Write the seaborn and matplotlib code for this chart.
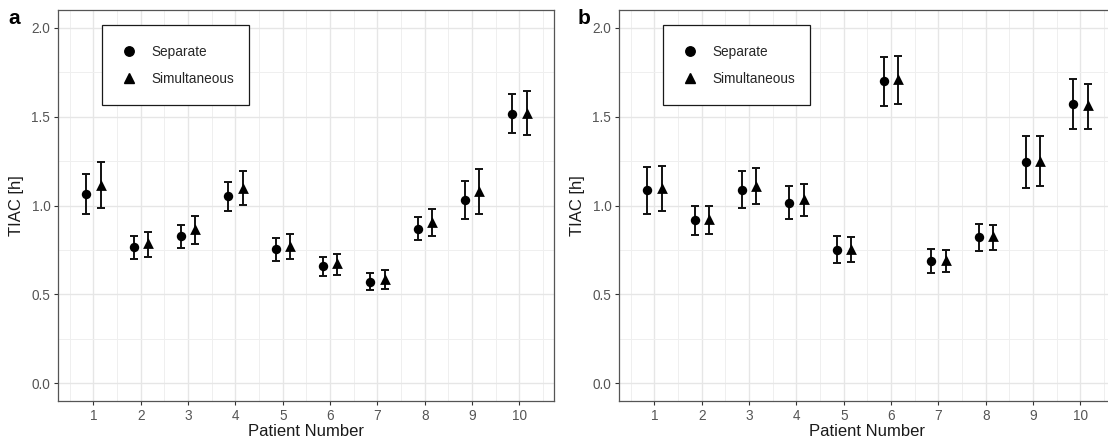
import numpy as np
import pandas as pd
import matplotlib
matplotlib.use("Agg")
import matplotlib.pyplot as plt
from matplotlib.ticker import MultipleLocator
import seaborn as sns

# ---------------- data ----------------
patients = [1, 2, 3, 4, 5, 6, 7, 8, 9, 10]
methods = ["Separate", "Simultaneous"]

a_sep = [1.065, 0.766, 0.826, 1.052, 0.753, 0.659, 0.571, 0.869, 1.031, 1.517]
a_sep_lo = [0.954, 0.700, 0.759, 0.971, 0.689, 0.605, 0.522, 0.804, 0.924, 1.407]
a_sep_hi = [1.177, 0.828, 0.890, 1.134, 0.817, 0.710, 0.618, 0.935, 1.138, 1.626]
a_sim = [1.115, 0.787, 0.866, 1.100, 0.772, 0.676, 0.588, 0.905, 1.083, 1.523]
a_sim_lo = [0.986, 0.710, 0.783, 1.001, 0.699, 0.608, 0.528, 0.826, 0.952, 1.395]
a_sim_hi = [1.245, 0.850, 0.939, 1.193, 0.838, 0.727, 0.637, 0.980, 1.204, 1.645]

b_sep = [1.085, 0.917, 1.089, 1.015, 0.751, 1.699, 0.689, 0.823, 1.243, 1.571]
b_sep_lo = [0.951, 0.832, 0.985, 0.925, 0.678, 1.558, 0.623, 0.746, 1.096, 1.433]
b_sep_hi = [1.219, 1.000, 1.192, 1.107, 0.827, 1.834, 0.757, 0.897, 1.390, 1.710]
b_sim = [1.100, 0.925, 1.109, 1.034, 0.757, 1.710, 0.691, 0.827, 1.252, 1.565]
b_sim_lo = [0.968, 0.840, 1.006, 0.942, 0.684, 1.571, 0.625, 0.751, 1.109, 1.433]
b_sim_hi = [1.224, 1.000, 1.209, 1.123, 0.825, 1.842, 0.747, 0.891, 1.390, 1.685]

y_ticks = [0.0, 0.5, 1.0, 1.5, 2.0]
y_ticklabels = ["0.0", "0.5", "1.0", "1.5", "2.0"]
x_label = "Patient Number"
y_label = "TIAC [h]"
panel_tags = ["a", "b"]


def make_df(sep, sep_lo, sep_hi, sim, sim_lo, sim_hi):
    rows = []
    for m, v, lo, hi in [("Separate", sep, sep_lo, sep_hi),
                         ("Simultaneous", sim, sim_lo, sim_hi)]:
        for p, vv, l, h in zip(patients, v, lo, hi):
            rows.append(dict(patient=p, method=m, value=vv, lo=l, hi=h))
    return pd.DataFrame(rows)


df_a = make_df(a_sep, a_sep_lo, a_sep_hi, a_sim, a_sim_lo, a_sim_hi)
df_b = make_df(b_sep, b_sep_lo, b_sep_hi, b_sim, b_sim_lo, b_sim_hi)

# ---------------- style ----------------
sns.set_theme(style="white")
plt.rcParams["font.family"] = ["Liberation Sans", "DejaVu Sans"]

DODGE = {"Separate": -0.15, "Simultaneous": 0.15}
MARKERS = {"Separate": "o", "Simultaneous": "^"}
SIZES = {"Separate": 46, "Simultaneous": 60}

fig = plt.figure(figsize=(11.08, 4.42), dpi=100)
W, H = 1108.0, 442.0
ax_w = 496 / W
ax_h = 391 / H
ax_bottom = (H - 401) / H
axes = [fig.add_axes([58 / W, ax_bottom, ax_w, ax_h]),
        fig.add_axes([619 / W, ax_bottom, ax_w, ax_h])]

for ax, df, tag in zip(axes, [df_a, df_b], panel_tags):
    df = df.copy()
    df["xpos"] = df["patient"] + df["method"].map(DODGE)
    for m in methods:
        sub = df[df["method"] == m]
        ax.errorbar(sub["xpos"], sub["value"],
                    yerr=[sub["value"] - sub["lo"], sub["hi"] - sub["value"]],
                    fmt="none", ecolor="#111111", elinewidth=1.4,
                    capsize=2.8, capthick=1.4, zorder=3)
        sns.scatterplot(data=sub, x="xpos", y="value", marker=MARKERS[m],
                        color="black", s=SIZES[m], linewidth=0, ax=ax,
                        zorder=4, legend=False)

    ax.set_xlim(0.25, 10.73)
    ax.set_ylim(-0.1, 2.1)
    ax.set_xticks(patients)
    ax.set_xticklabels([str(p) for p in patients])
    ax.set_yticks(y_ticks)
    ax.set_yticklabels(y_ticklabels)
    ax.xaxis.set_minor_locator(MultipleLocator(0.5))
    ax.yaxis.set_minor_locator(MultipleLocator(0.25))
    ax.grid(True, which="major", color="#E6E6E6", linewidth=1.0, zorder=0)
    ax.grid(True, which="minor", color="#EFEFEF", linewidth=0.7, zorder=0)
    ax.set_axisbelow(True)
    ax.tick_params(which="major", direction="out", length=3, width=0.8,
                   color="#333333", labelcolor="#555555", labelsize=9.8,
                   pad=2.5, bottom=True, left=True)
    ax.tick_params(which="minor", length=0)
    for sp in ax.spines.values():
        sp.set_color("#555555")
        sp.set_linewidth(0.9)

    ax.set_xlabel(x_label, fontsize=12, color="#1A1A1A")
    ax.set_ylabel(y_label, fontsize=12, color="#1A1A1A")
    ax.xaxis.set_label_coords(0.5, -(431 - 401) / 391)
    ax.xaxis.label.set_va("center")
    ax.yaxis.set_label_coords(-(58 - 16.5) / 496, 0.5)
    ax.yaxis.label.set_va("center")

    # legend
    handles = [plt.Line2D([], [], marker=MARKERS[m], linestyle="none",
                          color="black", markersize=6.8 if m == "Separate" else 7.6)
               for m in methods]
    leg = ax.legend(handles, methods, loc="upper left",
                    bbox_to_anchor=(0.089, 0.962, 0.296, 0.0), mode="expand",
                    fontsize=9.8, frameon=True, fancybox=False,
                    edgecolor="#1A1A1A", framealpha=1.0, borderpad=1.45,
                    labelspacing=0.95, handlelength=1.1, handletextpad=1.1,
                    borderaxespad=0)
    leg.get_frame().set_linewidth(0.9)

fig.text(14 / W, 1 - 19 / H, "a", fontsize=15, fontweight="bold",
         ha="center", va="center", color="black")
fig.text(584 / W, 1 - 19 / H, "b", fontsize=15, fontweight="bold",
         ha="center", va="center", color="black")

fig.savefig("out.png", dpi=100)
